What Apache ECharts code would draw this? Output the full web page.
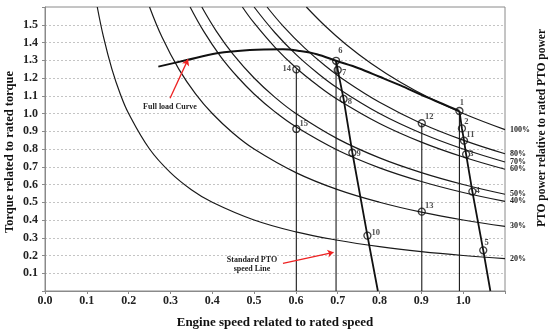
<!DOCTYPE html>
<html><head><meta charset="utf-8">
<script src="https://cdn.jsdelivr.net/npm/echarts@6/dist/echarts.min.js"></script>
<style>html,body{margin:0;padding:0;background:#fff}#c{width:550px;height:334px}</style>
</head><body><div id="c"></div>
<script>
// ---- data ----
const xTicks = ['0.0','0.1','0.2','0.3','0.4','0.5','0.6','0.7','0.8','0.9','1.0'];
const yTicks = ['0.1','0.2','0.3','0.4','0.5','0.6','0.7','0.8','0.9','1.0','1.1','1.2','1.3','1.4','1.5'];
const curveLabels = ['20%','30%','40%','50%','60%','70%','80%','100%'];
const curve20 = [[0.125,1.6],[0.14,1.43],[0.16,1.25],[0.18,1.11],[0.2,1.0],[0.25,0.8],[0.3,0.667],[0.35,0.571],[0.4,0.5],[0.5,0.4],[0.6,0.333],[0.7,0.286],[0.8,0.25],[0.9,0.222],[1.0,0.2],[1.1,0.182]];
const curve30 = [[0.25,1.6],[0.28,1.429],[0.32,1.25],[0.36,1.111],[0.4,1.0],[0.45,0.889],[0.5,0.8],[0.6,0.667],[0.7,0.571],[0.8,0.5],[0.9,0.444],[1.0,0.4],[1.1,0.364]];
const curve40 = [[0.347,1.6],[0.38,1.461],[0.42,1.321],[0.46,1.207],[0.5,1.11],[0.55,1.009],[0.6,0.925],[0.7,0.793],[0.8,0.694],[0.9,0.617],[1.0,0.555],[1.1,0.505]];
const curve50 = [[0.375,1.6],[0.41,1.463],[0.45,1.333],[0.5,1.2],[0.55,1.091],[0.6,1.0],[0.7,0.857],[0.8,0.75],[0.9,0.667],[1.0,0.6],[1.1,0.545]];
const curve60 = [[0.472,1.6],[0.5,1.51],[0.55,1.373],[0.6,1.258],[0.65,1.162],[0.7,1.079],[0.8,0.944],[0.9,0.839],[1.0,0.755],[1.1,0.686]];
const curve70 = [[0.5,1.6],[0.55,1.455],[0.6,1.333],[0.65,1.231],[0.7,1.143],[0.8,1.0],[0.9,0.889],[1.0,0.8],[1.1,0.727]];
const curve80 = [[0.531,1.6],[0.57,1.491],[0.62,1.371],[0.67,1.269],[0.72,1.181],[0.8,1.063],[0.9,0.944],[1.0,0.85],[1.1,0.773]];
const curve100 = [[0.625,1.6],[0.67,1.493],[0.72,1.389],[0.78,1.282],[0.85,1.176],[0.92,1.087],[1.0,1.0],[1.1,0.909]];
const fullLoad = [[0.271,1.264],[0.339,1.301],[0.411,1.339],[0.49,1.358],[0.569,1.362],[0.61,1.352],[0.65,1.334],[0.696,1.297],[0.75,1.255],[0.8,1.207],[0.85,1.158],[0.9,1.105],[0.95,1.055],[0.991,1.014]];
const governorA = [[0.991,1.014],[0.997,0.916],[1.002,0.847],[1.007,0.77],[1.022,0.56],[1.048,0.229],[1.065,0]];
const governorB = [[0.696,1.297],[0.700,1.245],[0.714,1.082],[0.735,0.779],[0.771,0.312],[0.796,0]];
const ptoSpeeds = [0.601, 0.696, 0.901, 0.991];
const ptoTops = [1.249, 1.297, 0.945, 1.014];
const pointNames = ['1','2','3','4','5','6','7','8','9','10','11','12','13','14','15'];
const pointX = [0.991,0.997,1.007,1.022,1.048,0.696,0.700,0.714,0.735,0.771,1.002,0.901,0.901,0.601,0.601];
const pointY = [1.014,0.916,0.770,0.560,0.229,1.297,1.245,1.082,0.779,0.312,0.847,0.945,0.447,1.249,0.913];
const fullLoadArrow = [[0.299,1.086],[0.342,1.305]];
const ptoArrow = [[0.569,0.156],[0.690,0.218]];

// ---- styles ----
const FONT = "'Liberation Serif','Times New Roman',serif";
const labelOffsets = [[3,-8],[5,-6],[6,0],[6,0],[4,-7],[5,-9],[7,3],[7,4],[7,2],[9,-2],[7,-5],[8,-6],[8,-5],[-9,0],[8,-4]];
const curves = [curve20,curve30,curve40,curve50,curve60,curve70,curve80,curve100];

const series = [];
curves.forEach((d,i)=>{
  series.push({type:'line', data:d, smooth:0.4, symbol:'none', z:2,
    lineStyle:{color:'#1a1a1a', width:1.2},
    endLabel:{show:true, formatter:curveLabels[i], distance:5, fontFamily:FONT, fontWeight:'bold', fontSize:8, color:'#222'}});
});
ptoSpeeds.forEach((x,i)=>{
  series.push({type:'line', data:[[x,0],[x,ptoTops[i]]], symbol:'none', z:2,
    lineStyle:{color:'#1a1a1a', width:1.1}});
});
series.push({type:'line', data:fullLoad, smooth:0.35, symbol:'none', z:3,
  lineStyle:{color:'#111', width:2}});
series.push({type:'line', data:governorA, symbol:'none', z:3, lineStyle:{color:'#111', width:1.8}});
series.push({type:'line', data:governorB, symbol:'none', z:3, lineStyle:{color:'#111', width:1.8}});
series.push({type:'scatter', z:5, symbol:'circle', symbolSize:7,
  itemStyle:{color:'rgba(255,255,255,0)', borderColor:'#111', borderWidth:1.3},
  data: pointNames.map((n,i)=>({value:[pointX[i],pointY[i]], name:n,
    label:{show:true, formatter:n, position:[3.5+labelOffsets[i][0],3.5+labelOffsets[i][1]], align:'center', verticalAlign:'middle',
      fontFamily:FONT, fontWeight:'bold', fontSize:8.5, color:'#222'}}))
});
// annotation arrows
series.push({type:'line', data:[], symbol:'none',
  markLine:{silent:true, symbol:['none','arrow'], symbolSize:6, label:{show:false},
    lineStyle:{color:'#ee2222', width:1.3, type:'solid'},
    data:[[{coord:fullLoadArrow[0]},{coord:fullLoadArrow[1]}],[{coord:ptoArrow[0]},{coord:ptoArrow[1]}]]}});

const chart = echarts.init(document.getElementById('c'));
chart.setOption({
  animation:false,
  grid:{left:45, right:45, top:7, bottom:43, show:true, borderColor:'#8a8a8a', borderWidth:1},
  xAxis:{type:'value', min:0, max:1.1, interval:0.1,
    axisLine:{show:true, lineStyle:{color:'#8a8a8a'}},
    axisTick:{show:true, length:3, lineStyle:{color:'#8a8a8a'}},
    splitLine:{show:false},
    axisLabel:{margin:4, fontFamily:FONT, fontWeight:'bold', fontSize:12, color:'#222',
      formatter:v=>{const i=Math.round(v*10); return i<xTicks.length?xTicks[i]:'';}}},
  yAxis:{type:'value', min:0, max:1.6, interval:0.1,
    axisLine:{show:true, lineStyle:{color:'#8a8a8a'}},
    axisTick:{show:true, length:3, lineStyle:{color:'#8a8a8a'}},
    splitLine:{show:true, lineStyle:{color:'#c4c4c4', type:[2,2], width:1}},
    axisLabel:{margin:7, fontFamily:FONT, fontWeight:'bold', fontSize:12, color:'#222',
      formatter:v=>{const i=Math.round(v*10); return (i>=1&&i<=15)?yTicks[i-1]:'';}}},
  graphic:[
    {type:'text', x:10, y:152, rotation:Math.PI/2, style:{text:'Torque related to rated torque', font:"bold 12.5px "+FONT, fill:'#111', align:'center', verticalAlign:'middle'}},
    {type:'text', x:275, y:323, style:{text:'Engine speed related to rated speed', font:"bold 13px "+FONT, fill:'#111', align:'center', verticalAlign:'middle'}},
    {type:'text', x:542, y:128, rotation:Math.PI/2, style:{text:'PTO power relative to rated PTO power', font:"bold 11.5px "+FONT, fill:'#111', align:'center', verticalAlign:'middle'}},
    {type:'text', x:170, y:107, style:{text:'Full load Curve', font:"bold 8px "+FONT, fill:'#222', align:'center', verticalAlign:'middle'}},
    {type:'text', x:252, y:264, style:{text:'Standard PTO\nspeed Line', font:"bold 8px "+FONT, lineHeight:9, fill:'#222', align:'center', verticalAlign:'middle'}}
  ],
  series:series
});
</script></body></html>
